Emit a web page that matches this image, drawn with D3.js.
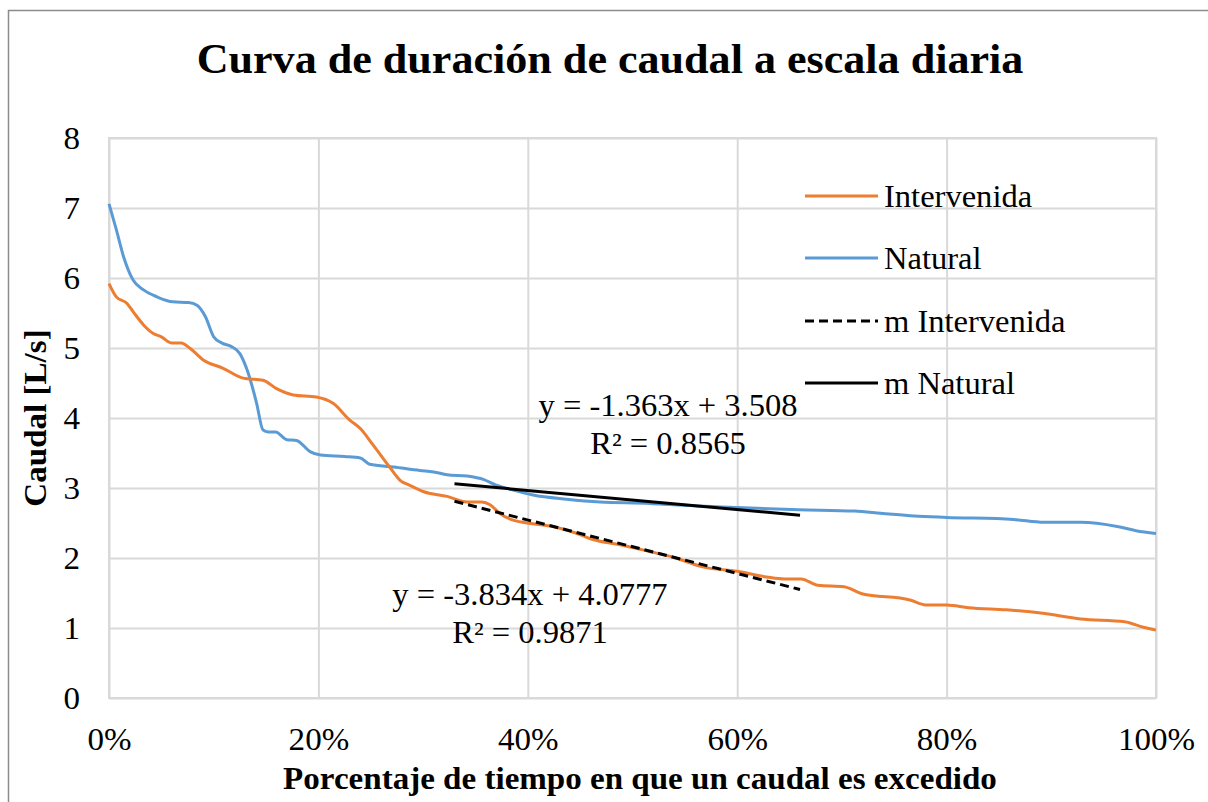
<!DOCTYPE html>
<html>
<head>
<meta charset="utf-8">
<script src="https://cdn.jsdelivr.net/npm/d3@7"></script>
<style>
  body { margin: 0; background: #fff; }
  svg { display: block; }
  text { font-family: "Liberation Serif", "Times New Roman", serif; fill: #000; }
</style>
</head>
<body>
<svg id="chart"></svg>
<script>
const width = 1208
const height = 802

// text in the picture is a little wider than tall
const SX = 1.05
const serif = "Liberation Serif, Times New Roman, serif"

// percentage of time (0..1) and flow for each curve
const naturalX = [0, 0.007, 0.014, 0.023, 0.033, 0.046, 0.061, 0.076, 0.084, 0.092, 0.100, 0.108, 0.117, 0.125, 0.133, 0.141, 0.147, 0.152, 0.159, 0.170, 0.179, 0.192, 0.202, 0.225, 0.240, 0.249, 0.272, 0.297, 0.310, 0.323, 0.342, 0.358, 0.370, 0.386, 0.405, 0.437, 0.469, 0.517, 0.539, 0.600, 0.659, 0.712, 0.737, 0.769, 0.800, 0.864, 0.893, 0.928, 0.963, 0.981, 1.0]
const naturalY = [7.06, 6.69, 6.30, 5.97, 5.83, 5.73, 5.66, 5.65, 5.61, 5.45, 5.16, 5.07, 5.02, 4.92, 4.64, 4.21, 3.83, 3.80, 3.80, 3.69, 3.68, 3.52, 3.47, 3.45, 3.43, 3.34, 3.30, 3.25, 3.23, 3.19, 3.17, 3.12, 3.04, 2.97, 2.90, 2.84, 2.80, 2.78, 2.76, 2.72, 2.69, 2.67, 2.64, 2.60, 2.58, 2.55, 2.51, 2.51, 2.45, 2.39, 2.35]

const intervX = [0, 0.007, 0.017, 0.023, 0.033, 0.042, 0.050, 0.060, 0.069, 0.077, 0.090, 0.109, 0.128, 0.147, 0.160, 0.176, 0.198, 0.214, 0.230, 0.240, 0.252, 0.268, 0.278, 0.287, 0.300, 0.323, 0.342, 0.356, 0.364, 0.373, 0.386, 0.405, 0.424, 0.447, 0.463, 0.488, 0.517, 0.539, 0.568, 0.600, 0.628, 0.645, 0.661, 0.677, 0.702, 0.719, 0.765, 0.780, 0.800, 0.821, 0.857, 0.892, 0.928, 0.970, 0.988, 1.0]
const intervY = [5.92, 5.73, 5.64, 5.52, 5.33, 5.21, 5.16, 5.07, 5.07, 5.00, 4.83, 4.71, 4.57, 4.54, 4.42, 4.33, 4.30, 4.21, 3.97, 3.85, 3.62, 3.30, 3.11, 3.04, 2.95, 2.88, 2.80, 2.80, 2.76, 2.64, 2.54, 2.49, 2.45, 2.35, 2.26, 2.19, 2.09, 2.01, 1.87, 1.81, 1.73, 1.70, 1.70, 1.61, 1.59, 1.49, 1.40, 1.33, 1.33, 1.29, 1.26, 1.21, 1.13, 1.09, 1.01, 0.97]

// linear trend lines (ends)
const trendX = [0.33, 0.66]
const trendNatural = [3.06, 2.61]
const trendInterv = [2.81, 1.55]

const eqNatural = ["y = -1.363x + 3.508", "R\u00b2 = 0.8565"]
const eqInterv = ["y = -3.834x + 4.0777", "R\u00b2 = 0.9871"]

const legendNames = ["Intervenida", "Natural", "m Intervenida", "m Natural"]

const xTicks = [0, 0.2, 0.4, 0.6, 0.8, 1]
const yTicks = [0, 1, 2, 3, 4, 5, 6, 7, 8]

const marginLeft = 109
const marginRight = 52
const marginTop = 138
const marginBottom = 104

const orange = "#ed7d31"
const blue = "#5b9bd5"
const gridColor = "#d9d9d9"

const xScale = d3.scaleLinear().domain([0, 1]).range([marginLeft, width - marginRight])
const yScale = d3.scaleLinear().domain([0, 8]).range([height - marginBottom, marginTop])

const svg = d3.select("#chart")
  .attr("width", width)
  .attr("height", height)

// outer chart border
svg.append("rect")
  .attr("x", 8.5).attr("y", 10.5)
  .attr("width", width + 20).attr("height", height + 20)
  .attr("fill", "#fff")
  .attr("stroke", "#8c8c8c")
  .attr("stroke-width", 1.5)

function label(x, y, str, size, opts = {}) {
  return svg.append("text")
    .attr("transform", `translate(${x},${y}) ${opts.rotate ? "rotate(-90)" : ""} scale(${SX},1)`)
    .attr("text-anchor", opts.anchor || "middle")
    .attr("font-family", serif)
    .attr("font-size", size)
    .attr("font-weight", opts.bold ? "bold" : "normal")
    .text(str)
}

// gridlines
svg.append("g")
  .attr("transform", `translate(0, ${yScale(0)})`)
  .call(d3.axisBottom(xScale).tickValues(xTicks).tickSize(-(yScale(0) - yScale(8))).tickFormat(""))
  .call(g => g.select(".domain").remove())
  .call(g => g.selectAll("line").attr("stroke", gridColor).attr("stroke-width", 2))

svg.append("g")
  .attr("transform", `translate(${marginLeft}, 0)`)
  .call(d3.axisLeft(yScale).tickValues(yTicks).tickSize(-(xScale(1) - xScale(0))).tickFormat(""))
  .call(g => g.select(".domain").remove())
  .call(g => g.selectAll("line").attr("stroke", gridColor).attr("stroke-width", 2))

svg.append("rect")
  .attr("x", xScale(0)).attr("y", yScale(8))
  .attr("width", xScale(1) - xScale(0)).attr("height", yScale(0) - yScale(8))
  .attr("fill", "none")
  .attr("stroke", gridColor)
  .attr("stroke-width", 2)

// tick labels
const xAxis = svg.append("g")
  .attr("transform", `translate(0, ${yScale(0)})`)
  .call(d3.axisBottom(xScale).tickValues(xTicks).tickSize(0).tickFormat(d3.format(".0%")))
  .attr("font-family", serif)
xAxis.select(".domain").remove()
xAxis.selectAll("text")
  .attr("y", 52).attr("dy", 0)
  .attr("font-size", 31.5)
  .attr("transform", `scale(${SX},1)`)

const yAxis = svg.append("g")
  .attr("transform", `translate(${marginLeft}, 0)`)
  .call(d3.axisLeft(yScale).tickValues(yTicks).tickSize(0))
  .attr("font-family", serif)
yAxis.select(".domain").remove()
yAxis.selectAll("text")
  .attr("x", -29 / SX).attr("dy", "0.34em")
  .attr("font-size", 31.5)
  .attr("transform", `scale(${SX},1)`)

// curves
const line = d3.line()
  .x(d => xScale(d[0]))
  .y(d => yScale(d[1]))
  .curve(d3.curveMonotoneX)

svg.append("path")
  .datum(d3.zip(naturalX, naturalY))
  .attr("fill", "none")
  .attr("stroke", blue)
  .attr("stroke-width", 3)
  .attr("d", line)

svg.append("path")
  .datum(d3.zip(intervX, intervY))
  .attr("fill", "none")
  .attr("stroke", orange)
  .attr("stroke-width", 3)
  .attr("d", line)

svg.append("path")
  .datum(d3.zip(trendX, trendInterv))
  .attr("fill", "none")
  .attr("stroke", "#000")
  .attr("stroke-width", 3)
  .attr("stroke-dasharray", "9,5")
  .attr("d", line)

svg.append("path")
  .datum(d3.zip(trendX, trendNatural))
  .attr("fill", "none")
  .attr("stroke", "#000")
  .attr("stroke-width", 3)
  .attr("d", line)

// equation labels
label(668, 416, eqNatural[0], 31)
label(668, 454, eqNatural[1], 31)
label(530, 605, eqInterv[0], 31)
label(530, 643, eqInterv[1], 31)

// legend
const legendColors = [orange, blue, "#000", "#000"]
const legendDash = [null, null, "9,5", null]
const legendY = [196, 258, 321, 383]
legendNames.forEach((name, i) => {
  svg.append("line")
    .attr("x1", 805).attr("x2", 878)
    .attr("y1", legendY[i]).attr("y2", legendY[i])
    .attr("stroke", legendColors[i])
    .attr("stroke-width", 3)
    .attr("stroke-dasharray", legendDash[i])
  label(884, legendY[i] + 11, name, 31, { anchor: "start" })
})

// titles
label(610, 73, "Curva de duración de caudal a escala diaria", 42, { bold: true })
label(640, 789, "Porcentaje de tiempo en que un caudal es excedido", 31.5, { bold: true })
label(46, 418, "Caudal [L/s]", 31.5, { bold: true, rotate: true })
</script>
</body>
</html>
